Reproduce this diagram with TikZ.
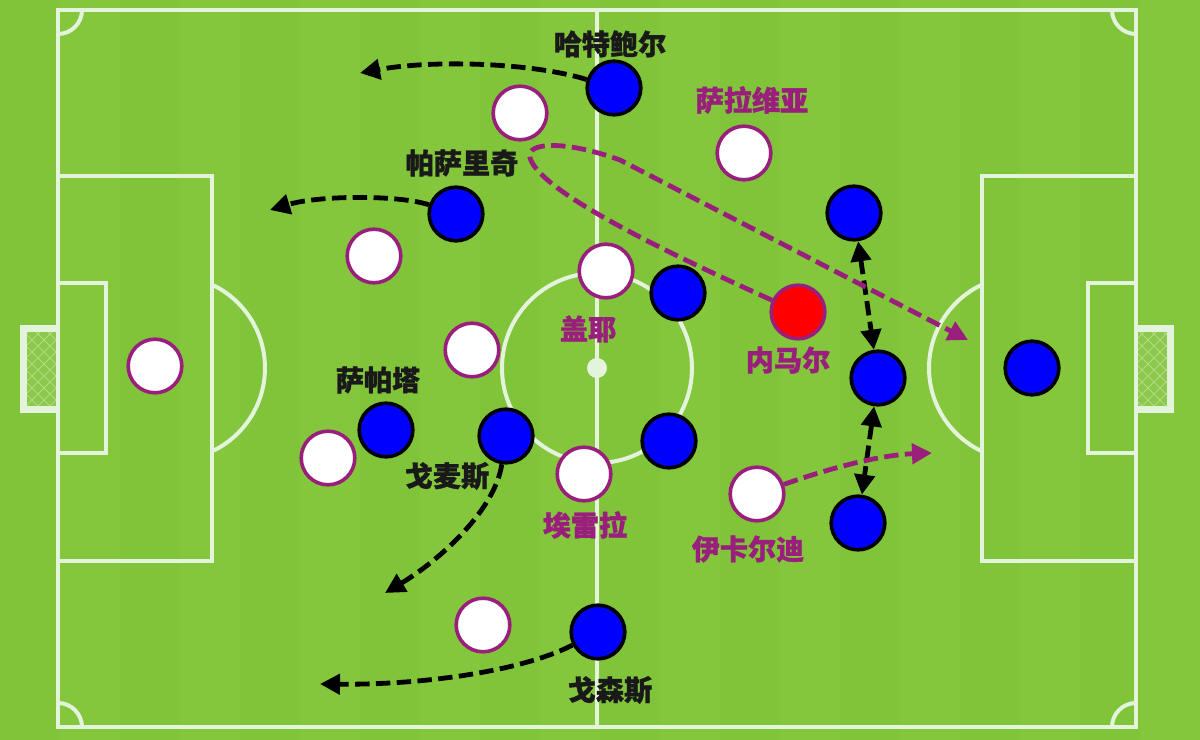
\documentclass[tikz,border=0pt]{standalone}
\usepackage{fontspec}
\newfontfamily\cjk[BoldFeatures={FakeBold=1.2}]{Noto Sans CJK SC}
\usetikzlibrary{arrows.meta}

\definecolor{grass}{HTML}{80C43A}
\definecolor{grassB}{HTML}{84C73D}
\definecolor{chalk}{HTML}{E4F3DC}
\definecolor{netgreen}{HTML}{8CC84C}
\definecolor{netline}{HTML}{B2DA80}
\definecolor{purp}{HTML}{9A1F7C}

\tikzset{
  home/.style={circle,draw=black,fill=blue,line width=0.09cm,minimum size=1.34cm,inner sep=0pt},
  away/.style={circle,draw=purp,fill=white,line width=0.09cm,minimum size=1.34cm,inner sep=0pt},
  star/.style={away,fill=red},
  lbl/.style={font=\cjk\bfseries\fontsize{20}{22}\selectfont,text=black!90,inner sep=0pt},
  plbl/.style={lbl,text=purp},
  chalkline/.style={draw=chalk,line width=0.1cm},
  run/.style={dash pattern=on 0.36cm off 0.16cm,line width=0.12cm,-{Triangle[length=0.5cm,width=0.5cm]}},
  prun/.style={run,draw=purp}
}

\begin{document}
\begin{tikzpicture}[x=0.025cm,y=-0.025cm]
  \useasboundingbox (0,0) rectangle (1200,740);
  % grass
  \fill[grass] (0,0) rectangle (1200,740);
  \foreach \i in {0,...,9}
    \fill[grassB] (\i*120+60,0) rectangle ++(60,740);

  % goals
  \fill[chalk] (20,325) rectangle (58,413);
  \fill[chalk] (1136,325) rectangle (1174,413);
  \fill[netgreen] (27,332) rectangle (57,406);
  \fill[netgreen] (1137,332) rectangle (1167,406);
  \begin{scope}
    \clip (27,332) rectangle (57,406) (1137,332) rectangle (1167,406);
    \foreach \k in {-14,...,30}
      \draw[netline,line width=0.6pt] (\k*12,320) -- ++(100,100) (\k*12,420) -- ++(100,-100);
    \foreach \k in {60,...,110}
      \draw[netline,line width=0.6pt] (\k*12,320) -- ++(100,100) (\k*12,420) -- ++(100,-100);
  \end{scope}

  % pitch markings
  \draw[chalkline] (58,10) rectangle (1136,727);
  \draw[chalkline] (597,10) -- (597,727);
  \draw[chalkline] (597,368) circle (95);
  \fill[chalk] (597,368) circle (10);
  \draw[chalkline] (58,176) rectangle (212,561);
  \draw[chalkline] (58,283) rectangle (106,453);
  \draw[chalkline] (982,176) rectangle (1136,561);
  \draw[chalkline] (1088,283) rectangle (1136,453);
  \begin{scope}
    \clip (212,0) rectangle (982,740);
    \draw[chalkline] (173,368) circle (92);
    \draw[chalkline] (1021,368) circle (92);
  \end{scope}
  \begin{scope}
    \clip (58,10) rectangle (1136,727);
    \foreach \cx/\cy in {58/10,1136/10,58/727,1136/727}
      \draw[chalkline] (\cx,\cy) circle (24);
  \end{scope}

  % white side
  \node[away] (keeper) at (155,366) {};
  \node[away] (w1) at (520,113) {};
  \node[away] (salvio) at (744,153) {};
  \node[away] (w2) at (374,256) {};
  \node[away] (geyer) at (606,271) {};
  \node[away] (w3) at (472,350) {};
  \node[away] (w4) at (328,458) {};
  \node[away] (herrera) at (584,474) {};
  \node[away] (icardi) at (757,494) {};
  \node[away] (w5) at (483,625) {};
  \node[star] (neymar) at (798,312) {};

  % blue side
  \node[home] (hateb) at (614,88) {};
  \node[home] (pasalic) at (456,214) {};
  \node[home] (b1) at (678,293) {};
  \node[home] (zapata) at (386,430) {};
  \node[home] (gomez) at (506,436) {};
  \node[home] (b2) at (669,441) {};
  \node[home] (gosens) at (598,632) {};
  \node[home] (b3) at (854,213) {};
  \node[home] (b4) at (878,378) {};
  \node[home] (b5) at (858,523) {};
  \node[home] (b6) at (1032,368) {};

  % names
  \node[lbl] (tHateb) at (610,44) {哈特鲍尔};
  \node[plbl] (tSalvio) at (752,100) {萨拉维亚};
  \node[lbl] (tPasalic) at (462,163) {帕萨里奇};
  \node[plbl] (tGeyer) at (588,329) {盖耶};
  \node[plbl] (tNeymar) at (788,360) {内马尔};
  \node[lbl] (tZapata) at (378,380) {萨帕塔};
  \node[lbl] (tGomez) at (447,476) {戈麦斯};
  \node[plbl] (tHerrera) at (585,525) {埃雷拉};
  \node[plbl] (tIcardi) at (748,549) {伊卡尔迪};
  \node[lbl] (tGosens) at (610,690) {戈森斯};

  % runs
  \coordinate (endA) at (360,73);
  \coordinate (endB) at (270,210);
  \coordinate (endC) at (385,593);
  \coordinate (endD) at (320,684);
  \coordinate (endN) at (968,340);
  \coordinate (endI) at (932,453);
  \draw[run] (hateb) .. controls (530,62) and (430,60) .. (endA);
  \draw[run] (pasalic) .. controls (400,195) and (320,195) .. (endB);
  \draw[run] (gomez) .. controls (495,510) and (440,560) .. (endC);
  \draw[run] (gosens) .. controls (520,672) and (420,685) .. (endD);
  \draw[run,{Triangle[length=0.5cm,width=0.5cm]}-{Triangle[length=0.5cm,width=0.5cm]}] (b3) -- (b4);
  \draw[run,{Triangle[length=0.5cm,width=0.5cm]}-{Triangle[length=0.5cm,width=0.5cm]}] (b4) -- (b5);
  \draw[prun] (neymar) .. controls (650,245) and (540,190) .. (530,158)
    .. controls (525,142) and (565,140) .. (620,160) -- (endN);
  \draw[prun] (icardi) .. controls (830,468) and (880,455) .. (endI);
\end{tikzpicture}
\end{document}
